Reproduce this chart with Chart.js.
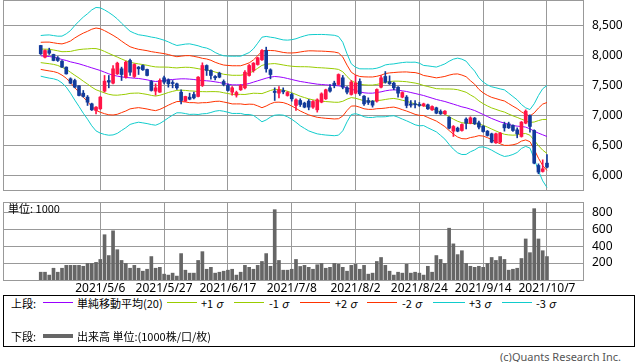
<!DOCTYPE html>
<html>
<head>
<meta charset="utf-8">
<script src="https://cdn.jsdelivr.net/npm/chart.js@4.4.1/dist/chart.umd.min.js"></script>
<style>
  body { margin: 0; background: #fff; }
  #wrap { position: relative; width: 638px; height: 362px; overflow: hidden; background: #fff; }
  canvas { position: absolute; left: 0; }
  .txt { position: absolute; font: 11px "Noto Sans CJK JP", "Noto Sans", sans-serif; line-height: 14px; color: #000; white-space: nowrap; }
  .ln { position: absolute; height: 1px; }
  .box { position: absolute; left: 3px; top: 295px; width: 632px; height: 52px; border: 1px solid #000; box-sizing: border-box; }
  .copy { position: absolute; left: 500px; top: 350px; font: 11px "Noto Sans", sans-serif; line-height: 14px; color: #555; white-space: nowrap; }
</style>
</head>
<body>
<div id="wrap">
  <canvas id="priceChart" width="638" height="191" style="top:0;width:638px;height:191px"></canvas>
  <canvas id="volumeChart" width="638" height="100" style="top:195px;width:638px;height:100px"></canvas>
  <div class="txt" style="left:8px;top:201px">単位: 1000</div>
  <div class="box"></div>
  <div id="legend"></div>
  <div class="copy">(c)Quants Research Inc.</div>
</div>
<script>
// Tick labels (trading-day index -> date)
const tickIdx = [14, 29, 44, 59, 74, 89, 104, 119];
const dateLabels = ["2021/5/6", "2021/5/27", "2021/6/17", "2021/7/8", "2021/8/2", "2021/8/24", "2021/9/14", "2021/10/7"];
const priceTicks = [6000, 6500, 7000, 7500, 8000, 8500];
const volumeTicks = [200, 400, 600, 800];

// Daily candles
const open = [8167,7972,8083,8017,7961,7906,7806,7611,7583,7494, 7372,7306,7194,7083,7111,7406,7583,7539,7694,7778,
  7639,7917,7650,7806,7833,7767,7567,7406,7389,7628, 7594,7550,7528,7389,7239,7306,7350,7317,7500,7833,
  7750,7650,7706,7567,7500,7389,7339,7428,7461,7667, 7750,7850,7928,8083,7761,7406,7372,7417,7333,7350,
  7167,7250,7206,7239,7139,7094,7222,7278,7461,7539, 7517,7628,7461,7350,7372,7567,7322,7250,7239,7239,
  7472,7650,7561,7539,7472,7306,7306,7194,7189,7183, 7161,7178,7094,7128,7067,7028,6972,6739,6789,6750,
  6939,6872,6956,6878,6822,6739,6694,6544,6556,6850, 6861,6833,6761,6650,6872,7000,6750,6167,6067,6206];
const high = [8170,8094,8122,8022,7983,7917,7811,7628,7606,7500, 7417,7333,7206,7150,7317,7667,7667,7833,7889,7806,
  7906,7939,7861,7817,7844,7772,7583,7528,7611,7656, 7611,7583,7539,7428,7322,7372,7389,7650,7878,7844,
  7761,7667,7722,7594,7528,7483,7406,7517,7750,7850, 7883,7972,8100,8139,7778,7461,7483,7461,7400,7372,
  7278,7278,7222,7267,7250,7278,7378,7439,7517,7572, 7694,7667,7483,7583,7667,7611,7333,7294,7250,7444,
  7667,7733,7661,7556,7483,7394,7333,7250,7250,7217, 7206,7189,7161,7139,7094,7083,6978,6833,6806,6861,
  6961,6978,6967,6906,6833,6750,6706,6706,6717,6889, 6889,6844,6794,6900,7094,7011,6761,6194,6261,6350];
const low = [8017,7961,8017,7911,7900,7800,7689,7528,7461,7328, 7306,7167,7083,7028,7100,7389,7461,7528,7683,7583,
  7622,7667,7633,7683,7750,7661,7406,7339,7383,7528, 7472,7461,7433,7194,7233,7261,7278,7311,7483,7667,
  7606,7594,7628,7494,7406,7339,7306,7417,7444,7656, 7722,7839,7917,7722,7611,7250,7294,7361,7322,7239,
  7083,7150,7128,7094,7117,7056,7211,7267,7389,7461, 7506,7444,7361,7339,7361,7333,7167,7183,7139,7222,
  7461,7539,7517,7428,7306,7294,7128,7139,7128,7150, 7150,7100,7083,7028,7017,7017,6778,6650,6728,6739,
  6778,6861,6850,6778,6722,6656,6544,6533,6544,6739, 6783,6733,6628,6639,6861,6722,6194,6028,6056,6128];
const close = [8028,8083,8039,7917,7917,7806,7694,7539,7472,7333, 7317,7222,7094,7139,7306,7572,7556,7778,7872,7683,
  7889,7722,7850,7778,7761,7667,7417,7461,7583,7556, 7528,7533,7461,7250,7317,7272,7294,7639,7833,7750,
  7667,7628,7639,7517,7417,7461,7383,7500,7722,7833, 7872,7961,8083,7778,7683,7383,7428,7394,7383,7278,
  7261,7183,7139,7139,7233,7261,7361,7428,7406,7500, 7683,7472,7389,7556,7539,7361,7194,7217,7172,7433,
  7628,7556,7528,7461,7372,7383,7167,7172,7178,7167, 7194,7111,7150,7039,7028,7072,6789,6817,6739,6850,
  6872,6961,6861,6806,6733,6667,6556,6694,6706,6794, 6794,6750,6694,6889,7072,6817,6206,6056,6111,6139];

// Volume (x1000)
const volume = [92,92,58,139,92,139,173,173,173,173, 162,196,196,208,243,535,289,581,358,231,
  196,139,173,139,104,127,277,139,150,69, 58,81,46,312,116,81,81,231,335,127,
  150,81,92,104,116,127,58,92,173,150, 127,173,219,312,162,831,231,116,116,127,
  243,160,173,150,127,180,196,139,150,196, 185,150,104,173,185,127,173,69,81,219,
  266,173,104,58,92,81,185,81,92,81, 58,162,92,289,243,196,612,427,300,346,
  196,162,150,162,150,196,266,231,277,243, 116,127,139,254,485,323,843,485,346,277];

// 20-day moving average and its standard deviation
const ma20 = [7994,7989,7983,7972,7956,7933,7917,7894,7878,7861, 7839,7817,7794,7772,7750,7722,7694,7672,7656,7644,
  7633,7628,7622,7617,7606,7594,7578,7567,7572,7583, 7594,7600,7606,7611,7611,7606,7600,7589,7583,7578,
  7572,7561,7550,7533,7522,7511,7511,7511,7517,7533, 7556,7578,7600,7622,7639,7650,7644,7633,7617,7600,
  7583,7567,7556,7544,7533,7522,7517,7511,7506,7500, 7494,7483,7461,7439,7417,7394,7378,7372,7372,7383,
  7394,7411,7422,7428,7422,7411,7400,7383,7367,7350, 7333,7311,7289,7267,7250,7233,7211,7189,7167,7144,
  7128,7106,7083,7050,7017,6983,6950,6922,6894,6872, 6850,6833,6822,6817,6806,6778,6739,6706,6678,6650];
const sigma = [113,117,120,120,122,130,148,174,207,237, 267,293,322,343,348,346,341,332,318,298,
  279,259,250,243,243,243,243,243,235,224, 211,198,187,189,193,196,193,191,185,182,
  174,163,156,154,156,159,159,159,167,172, 185,209,235,232,222,215,211,209,213,221,
  232,246,257,267,272,276,278,279,279,279, 274,246,189,141,129,128,133,135,135,135,
  139,144,144,144,150,157,163,168,174,174, 167,172,176,180,194,209,231,250,263,265,
  259,237,219,193,180,176,176,180,183,185, 174,161,146,122,107,107,152,209,256,283];

const UP = "#ff1447";
const DOWN = "#123a9a";
const GRID = "#999";
const X_MIN = -8.87;
const X_MAX = 127.47;
const axisFont = { family: "'Noto Sans', sans-serif", size: 12 };

const candleColors = close.map((c, i) => (c >= open[i] ? UP : DOWN));

// Bollinger band lines
const bands = [
    { k: 0, color: "#9900ff" },
    { k: 1, color: "#99cc00" },
    { k: -1, color: "#99cc00" },
    { k: 2, color: "#ff3300" },
    { k: -2, color: "#ff3300" },
    { k: 3, color: "#11cccc" },
    { k: -3, color: "#11cccc" },
];

// Draw the plot frame
const frame = {
    id: "frame",
    beforeDatasetsDraw(chart) {
        const { ctx, chartArea: a } = chart;
        ctx.save();
        ctx.strokeStyle = GRID;
        ctx.lineWidth = 1;
        ctx.strokeRect(a.left + 0.5, a.top + 0.5, a.right - a.left, a.bottom - a.top);
        ctx.restore();
    },
};

function xScale(showLabels) {
    return {
        type: "linear",
        min: X_MIN,
        max: X_MAX,
        offset: false,
        grid: { color: GRID, drawTicks: false, offset: false },
        border: { display: false },
        ticks: {
            display: showLabels,
            autoSkip: false,
            maxRotation: 0,
            padding: 1,
            color: "#000",
            font: axisFont,
            callback: (value, index) => dateLabels[index],
        },
        afterBuildTicks: (scale) => {
            scale.ticks = tickIdx.map((v) => ({ value: v }));
        },
        afterFit: (scale) => {
            scale.height = showLabels ? 15 : 0;
            scale.paddingLeft = 0;
            scale.paddingRight = 0;
        },
    };
}

function yScale(min, max, ticks, format) {
    return {
        position: "right",
        min,
        max,
        grid: { color: GRID, drawTicks: false },
        border: { display: false },
        ticks: { padding: 9, color: "#000", font: axisFont, callback: format },
        afterBuildTicks: (scale) => {
            scale.ticks = ticks.map((v) => ({ value: v }));
        },
        afterFit: (scale) => {
            scale.width = 55;
            scale.paddingTop = 0;
            scale.paddingBottom = 0;
        },
    };
}

const baseOptions = {
    responsive: false,
    animation: false,
    events: [],
    plugins: { legend: { display: false }, tooltip: { enabled: false } },
};

// Price chart
new Chart(document.getElementById("priceChart"), {
    type: "bar",
    data: {
        datasets: [
            {
                data: open.map((o, i) => ({ x: i, y: [o, close[i]] })),
                backgroundColor: candleColors,
                barThickness: 3,
                minBarLength: 1,
                grouped: false,
                order: 0,
            },
            {
                data: low.map((l, i) => ({ x: i, y: [l, high[i]] })),
                backgroundColor: candleColors,
                barThickness: 1,
                grouped: false,
                order: 1,
            },
            ...bands.map((b) => ({
                type: "line",
                data: ma20.map((m, i) => ({ x: i, y: m + b.k * sigma[i] })),
                borderColor: b.color,
                borderWidth: 1,
                pointRadius: 0,
                fill: false,
                tension: 0,
                order: 2,
            })),
        ],
    },
    options: {
        ...baseOptions,
        layout: { padding: { left: 3, top: 0, right: 0, bottom: 1 } },
        scales: {
            x: xScale(false),
            y: yScale(5758, 8925, priceTicks, (v) => v.toLocaleString("en-US")),
        },
    },
    plugins: [frame],
});

// Volume chart
new Chart(document.getElementById("volumeChart"), {
    type: "bar",
    data: {
        datasets: [
            {
                data: volume.map((v, i) => ({ x: i, y: v })),
                backgroundColor: "#666",
                barThickness: 3,
            },
        ],
    },
    options: {
        ...baseOptions,
        layout: { padding: { left: 3, top: 7, right: 0, bottom: 0 } },
        scales: {
            x: xScale(true),
            y: yScale(0, 921.7, volumeTicks, (v) => String(v)),
        },
    },
    plugins: [frame],
});

// Legend under the charts
const legendRows = [
    { y: 302.5, label: "上段:", items: [
        { from: 43, to: 73, color: "#9900ff", text: "単純移動平均(20)", tx: 77 },
        { from: 167, to: 197, color: "#99cc00", text: "+1 <i>σ</i>", tx: 201 },
        { from: 234, to: 264, color: "#99cc00", text: "-1 <i>σ</i>", tx: 269 },
        { from: 300, to: 330, color: "#ff3300", text: "+2 <i>σ</i>", tx: 335 },
        { from: 367, to: 397, color: "#ff3300", text: "-2 <i>σ</i>", tx: 402 },
        { from: 433, to: 465, color: "#11cccc", text: "+3 <i>σ</i>", tx: 469 },
        { from: 502, to: 532, color: "#11cccc", text: "-3 <i>σ</i>", tx: 536 },
    ] },
    { y: 336, label: "下段:", items: [
        { from: 43, to: 73, color: "#666", text: "出来高 単位:(1000株/口/枚)", tx: 77, thick: 4 },
    ] },
];

const legend = document.getElementById("legend");
legendRows.forEach((row) => {
    let html = `<div class="txt" style="left:11px;top:${row.y - 7}px">${row.label}</div>`;
    row.items.forEach((it) => {
        const h = it.thick || 1;
        html += `<div class="ln" style="left:${it.from}px;width:${it.to - it.from}px;top:${Math.round(row.y - h / 2)}px;height:${h}px;background:${it.color}"></div>`;
        html += `<div class="txt" style="left:${it.tx}px;top:${row.y - 7}px">${it.text}</div>`;
    });
    legend.insertAdjacentHTML("beforeend", html);
});
</script>
</body>
</html>
